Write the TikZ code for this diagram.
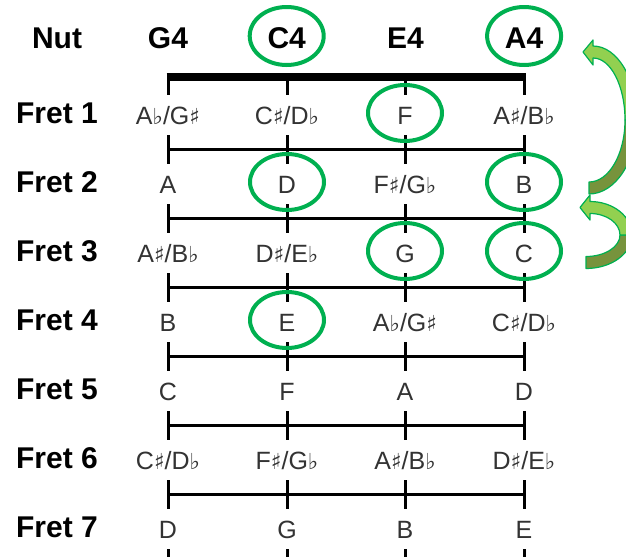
\documentclass[tikz,border=0pt]{standalone}
\usepackage{fontspec}
\setmainfont{Liberation Sans}
\newfontfamily\symfont{DejaVu Sans}
\newcommand{\nsharp}{{\symfont\fontsize{22}{22}\selectfont ♯}}
\newcommand{\nflat}{{\symfont\fontsize{22}{22}\selectfont ♭}}
\definecolor{ringgreen}{RGB}{0,176,80}
\definecolor{arrowlight}{RGB}{146,208,80}
\definecolor{arrowdark}{RGB}{119,147,60}
\begin{document}
\begin{tikzpicture}[x=1pt,y=-1pt,line join=round,
    lbl/.style={font=\fontsize{30}{30}\selectfont\bfseries,anchor=base,text height=21pt,text depth=0pt},
    note/.style={font=\fontsize{25}{25}\selectfont,text=black!80,anchor=base,fill=white,
        text height=18pt,text depth=0pt,inner xsep=2pt,inner ysep=11pt},
    ring/.style={draw=ringgreen,line width=4pt},
    curvearrow/.style={draw=ringgreen,line width=1.2pt}]
	\useasboundingbox (0,0) rectangle (626,557);
	\def \xnut{168}\def \xend{524}\def \ynut{77}\def \dy{69}
	% strings, nut and frets
	\foreach \x in {168,287,405,524}
		\draw[line width=3pt] (\x,\ynut) -- (\x,557);
	\draw[line width=8pt] (\xnut-1.5,\ynut) -- (\xend+1.5,\ynut);
	\foreach \i in {1,...,6}
		\draw[line width=3pt] (\xnut,{149.5+\dy*(\i-1)}) -- (\xend,{149.5+\dy*(\i-1)});
	% header
	\node[lbl] (h-0) at (57,48) {Nut};
	\foreach \t [count=\s] in {G4,C4,E4,A4}
		\node[lbl] (h-\s) at ({\xnut+118.7*(\s-1)},48) {\t};
	% frets
	\foreach \r/\ga/\gb/\gc/\gd in {
		1/{A\nflat/G\nsharp}/{C\nsharp/D\nflat}/F/{A\nsharp/B\nflat},
		2/A/D/{F\nsharp/G\nflat}/B,
		3/{A\nsharp/B\nflat}/{D\nsharp/E\nflat}/G/C,
		4/B/E/{A\nflat/G\nsharp}/{C\nsharp/D\nflat},
		5/C/F/A/D,
		6/{C\nsharp/D\nflat}/{F\nsharp/G\nflat}/{A\nsharp/B\nflat}/{D\nsharp/E\nflat},
		7/D/G/B/E}{
		\node[lbl] (f-\r) at (57,{123+\dy*(\r-1)}) {Fret \r};
		\node[note] (n-\r-1) at (168,{124+\dy*(\r-1)}) {\ga};
		\node[note] (n-\r-2) at (287,{124+\dy*(\r-1)}) {\gb};
		\node[note] (n-\r-3) at (405,{124+\dy*(\r-1)}) {\gc};
		\node[note] (n-\r-4) at (524,{124+\dy*(\r-1)}) {\gd};
	}
	% circled notes
	\foreach \n in {h-2,h-4}
		\draw[ring] ([yshift=1.5]\n.center) ellipse [x radius=37,y radius=29];
	\foreach \n in {n-1-3,n-2-2,n-2-4,n-3-3,n-3-4,n-4-2}
		\draw[ring] ([yshift=2]\n.center) ellipse [x radius=37,y radius=28];
	% curved arrows
	\begin{scope}
		\clip (0,0) rectangle (626,557);
		\fill[arrowdark,curvearrow] (589,194) arc[start angle=90,end angle=0,x radius=48,y radius=74]
			-- ++(-12,0) arc[start angle=0,end angle=90,x radius=36,y radius=62] -- cycle;
		\fill[arrowlight,curvearrow] (637,120) arc[start angle=0,end angle=-90,x radius=44,y radius=74]
			-- (593,40) -- (583,52) -- (593,65) -- (593,58)
			arc[start angle=-90,end angle=0,x radius=32,y radius=62] -- cycle;
		\fill[arrowdark,curvearrow] (586,268.5) arc[start angle=90,end angle=0,x radius=46,y radius=33.5]
			-- ++(-12,0) arc[start angle=0,end angle=90,x radius=34,y radius=21.5] -- cycle;
		\fill[arrowlight,curvearrow] (632,235) arc[start angle=0,end angle=-90,x radius=42,y radius=33.5]
			-- (590,195) -- (580,207.5) -- (590,220) -- (590,213.5)
			arc[start angle=-90,end angle=0,x radius=30,y radius=21.5] -- cycle;
	\end{scope}
\end{tikzpicture}
\end{document}
